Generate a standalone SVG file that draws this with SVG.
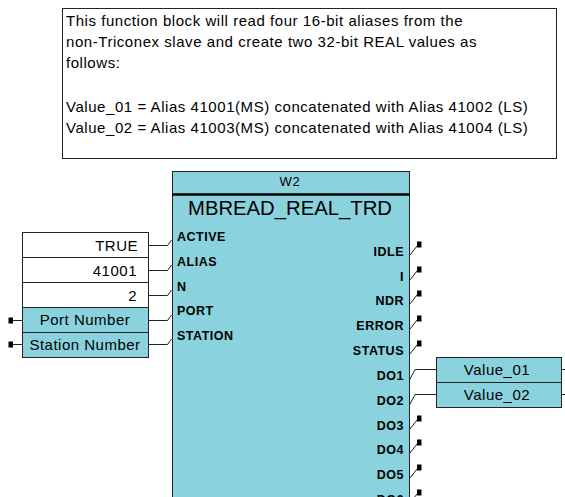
<svg xmlns="http://www.w3.org/2000/svg" width="565" height="497" viewBox="0 0 565 497">
<style>
.cm{font-family:"Liberation Sans",Arial,sans-serif;font-size:15px;letter-spacing:0.55px;fill:#000}
.box{fill:#8AD2DE;stroke:#222;stroke-width:1}
.wbox{fill:#fff;stroke:#222;stroke-width:1}
.val{font-family:"Liberation Sans",Arial,sans-serif;font-size:15px;letter-spacing:0.5px;fill:#000}
.pin{font-family:"Liberation Sans",Arial,sans-serif;font-size:12.5px;font-weight:bold;letter-spacing:0.5px;fill:#000}
.ln{fill:none;stroke:#222;stroke-width:1}
.term{fill:#000}
</style>
<g id="comment">
<rect x="62.5" y="8.5" width="494" height="150" fill="#fff" stroke="#222" stroke-width="1"/>
<text class="cm" x="66" y="26">This function block will read four 16-bit aliases from the</text>
<text class="cm" x="66" y="47">non-Triconex slave and create two 32-bit REAL values as</text>
<text class="cm" x="66" y="68">follows:</text>
<text class="cm" x="66" y="112">Value_01 = Alias 41001(MS) concatenated with Alias 41002 (LS)</text>
<text class="cm" x="66" y="133">Value_02 = Alias 41003(MS) concatenated with Alias 41004 (LS)</text>
</g>
<g id="block">
<rect class="box" x="172.5" y="171.5" width="237" height="340"/>
<line x1="172" y1="194.5" x2="410" y2="194.5" stroke="#000" stroke-width="2.5"/>
<text x="290" y="186" text-anchor="middle" font-family="Liberation Sans, Arial, sans-serif" font-size="13" letter-spacing="0.8">W2</text>
<text x="290" y="215" text-anchor="middle" font-family="Liberation Sans, Arial, sans-serif" font-size="20.3">MBREAD_REAL_TRD</text>
<text class="pin" x="177" y="241">ACTIVE</text>
<text class="pin" x="177" y="266">ALIAS</text>
<text class="pin" x="177" y="291">N</text>
<text class="pin" x="177" y="315">PORT</text>
<text class="pin" x="177" y="340">STATION</text>
<g text-anchor="end">
<text class="pin" x="404" y="256">IDLE</text>
<text class="pin" x="404" y="281">I</text>
<text class="pin" x="404" y="305">NDR</text>
<text class="pin" x="404" y="330">ERROR</text>
<text class="pin" x="404" y="355">STATUS</text>
<text class="pin" x="404" y="380">DO1</text>
<text class="pin" x="404" y="405">DO2</text>
<text class="pin" x="404" y="430">DO3</text>
<text class="pin" x="404" y="454">DO4</text>
<text class="pin" x="404" y="479">DO5</text>
<text class="pin" x="404" y="504">DO6</text>
</g>
</g>
<g id="in-true">
<rect class="wbox" x="22.5" y="232.5" width="126" height="25"/>
<text class="val" x="138" y="251" text-anchor="end">TRUE</text>
</g>
<g id="in-alias">
<rect class="wbox" x="22.5" y="257.5" width="126" height="25"/>
<text class="val" x="137" y="276" text-anchor="end">41001</text>
</g>
<g id="in-n">
<rect class="wbox" x="22.5" y="282.5" width="126" height="25"/>
<text class="val" x="137" y="301" text-anchor="end">2</text>
</g>
<g id="in-port">
<rect class="box" x="22.5" y="307.5" width="126" height="25"/>
<text class="val" x="85" y="325" text-anchor="middle">Port Number</text>
</g>
<g id="in-station">
<rect class="box" x="22.5" y="332.5" width="126" height="25"/>
<text class="val" x="85" y="350" text-anchor="middle">Station Number</text>
</g>
<g id="out-value01">
<rect class="box" x="436.5" y="357.5" width="125" height="25"/>
<text class="val" x="497" y="375" text-anchor="middle">Value_01</text>
</g>
<g id="out-value02">
<rect class="box" x="436.5" y="382.5" width="125" height="25"/>
<text class="val" x="497" y="400" text-anchor="middle">Value_02</text>
</g>
<g id="connectors">
<path class="ln" d="M148 245.5H167.5L171.5 240 M148 270.5H167.5L171.5 265 M148 295.5H167.5L171.5 290 M148 320.5H167.5L171.5 315 M148 344.5H167.5L171.5 339"/>
<path class="ln" d="M13 320.5H22 M13 344.5H22"/>
<rect class="term" x="8.5" y="317.5" width="4.5" height="6"/>
<rect class="term" x="8.5" y="341.5" width="4.5" height="6"/>
<path class="ln" d="M409.5 380L415 369.5H436 M409.5 405L415 394.5H436 M562 369.5H565 M562 394.5H565"/>
<path class="ln" d="M410 255L417 246 M410 280L417 271 M410 304L417 295 M410 329L417 320 M410 354L417 345 M410 429L417 420 M410 453L417 444 M410 478L417 469 M410 503L417 494"/>
<rect class="term" x="417" y="241.5" width="4.5" height="6"/>
<rect class="term" x="417" y="266.5" width="4.5" height="6"/>
<rect class="term" x="417" y="290.5" width="4.5" height="6"/>
<rect class="term" x="417" y="315.5" width="4.5" height="6"/>
<rect class="term" x="417" y="340.5" width="4.5" height="6"/>
<rect class="term" x="417" y="415.5" width="4.5" height="6"/>
<rect class="term" x="417" y="439.5" width="4.5" height="6"/>
<rect class="term" x="417" y="464.5" width="4.5" height="6"/>
<rect class="term" x="417" y="489.5" width="4.5" height="6"/>
</g>
</svg>
